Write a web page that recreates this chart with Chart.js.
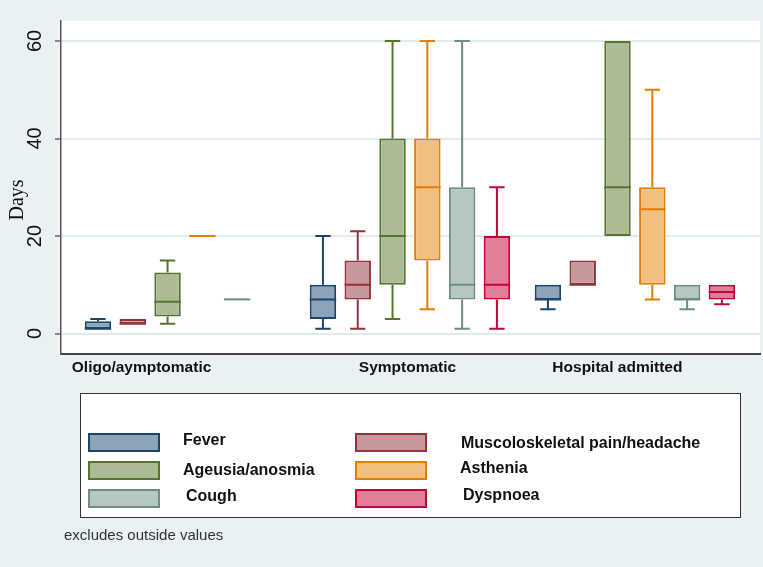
<!DOCTYPE html>
<html>
<head>
<meta charset="utf-8">
<script src="https://cdn.jsdelivr.net/npm/chart.js@4.4.1/dist/chart.umd.min.js"></script>
<style>
html,body{margin:0;padding:0;background:#eaf1f3;}
canvas{display:block;}
</style>
</head>
<body>
<canvas id="c" width="763" height="567"></canvas>
<script>
// ---- data ----
const categories = ["Oligo/aymptomatic", "Symptomatic", "Hospital admitted"];
const seriesNames = ["Fever", "Muscoloskeletal pain/headache", "Ageusia/anosmia", "Asthenia", "Cough", "Dyspnoea"];
// each entry: [min, q1, median, q3, max] per category (null = no data)
const fever      = [[1, 1, 1, 2.5, 3],   [1, 3, 7, 10, 20],   [5, 7, 7, 10, 10]];
const muscolo    = [[2, 2, 2, 3, 3],     [1, 7, 10, 15, 21],  [10, 10, 10, 15, 15]];
const ageusia    = [[2, 3.5, 6.5, 12.5, 15], [3, 10, 20, 40, 60], [20, 20, 30, 60, 60]];
const asthenia   = [[20, 20, 20, 20, 20], [5, 15, 30, 40, 60], [7, 10, 25.5, 30, 50]];
const cough      = [[7, 7, 7, 7, 7],     [1, 7, 10, 30, 60],  [5, 7, 7, 10, 10]];
const dyspnoea   = [null,                [1, 7, 10, 20, 30],  [6, 7, 8.5, 10, 10]];
const yTicks = [0, 20, 40, 60];
const yTitle = "Days";
const noteText = "excludes outside values";

// ---- styles ----
const borderColors = ["#1a476f", "#90353b", "#55752f", "#e37e00", "#6e8e84", "#c10534"];
const fillColors   = ["#8ea2b8", "#c7979b", "#aabb96", "#f1bf80", "#b6c7c1", "#e07f97"];
const xLabelShift = [-0.193, -0.011, -0.078];
const allStats = [fever, muscolo, ageusia, asthenia, cough, dyspnoea];
const X_MIN = -0.551, X_MAX = 2.556;

const datasets = allStats.map((st, di) => ({
  label: seriesNames[di],
  data: st.map((s, i) => ({ x: i, y: s ? [s[1], s[3]] : null })),
  backgroundColor: fillColors[di],
  borderColor: borderColors[di],
  borderWidth: 2,
  borderSkipped: false,
  categoryPercentage: 0.928,
  barPercentage: 0.76
}));

const boxPlugin = {
  id: 'boxes',
  beforeDraw(chart) {
    const ctx = chart.ctx, a = chart.chartArea;
    ctx.save();
    ctx.fillStyle = '#eaf1f3';
    ctx.fillRect(0, 0, chart.width, chart.height);
    ctx.fillStyle = '#ffffff';
    ctx.fillRect(a.left, a.top, a.right - a.left, a.bottom - a.top);
    ctx.restore();
  },
  afterDatasetsDraw(chart) {
    const ctx = chart.ctx, ys = chart.scales.y;
    ctx.save();
    chart.data.datasets.forEach((ds, di) => {
      const meta = chart.getDatasetMeta(di);
      meta.data.forEach((el, i) => {
        const s = allStats[di][i];
        if (!s) return;
        const x = el.x, w = el.width, cw = w * 0.58;
        const p = v => ys.getPixelForValue(v);
        ctx.strokeStyle = borderColors[di];
        ctx.lineWidth = 2;
        ctx.beginPath();
        if (s[4] > s[3]) {
          ctx.moveTo(x, p(s[3])); ctx.lineTo(x, p(s[4]));
          ctx.moveTo(x - cw / 2, p(s[4])); ctx.lineTo(x + cw / 2, p(s[4]));
        }
        if (s[0] < s[1]) {
          ctx.moveTo(x, p(s[1])); ctx.lineTo(x, p(s[0]));
          ctx.moveTo(x - cw / 2, p(s[0])); ctx.lineTo(x + cw / 2, p(s[0]));
        }
        ctx.moveTo(x - w / 2, p(s[2])); ctx.lineTo(x + w / 2, p(s[2]));
        ctx.stroke();
      });
    });
    ctx.restore();
  },
  afterDraw(chart) {
    const ctx = chart.ctx;
    ctx.save();
    // y title
    ctx.fillStyle = '#111';
    ctx.font = '20px "Liberation Serif", "Times New Roman", serif';
    ctx.textAlign = 'center';
    ctx.textBaseline = 'middle';
    ctx.translate(18, 200);
    ctx.rotate(-Math.PI / 2);
    ctx.fillText(yTitle, 0, 0);
    ctx.restore();

    // legend
    ctx.save();
    ctx.fillStyle = '#ffffff';
    ctx.fillRect(80, 393, 661, 125);
    ctx.strokeStyle = '#333';
    ctx.lineWidth = 1;
    ctx.strokeRect(80.5, 393.5, 660, 124);
    const order = [0, 1, 2, 3, 4, 5];
    const cols = [{ sx: 88, tx: 183 }, { sx: 355, tx: 461 }];
    const rows = [433, 461, 489];
    const textY = [[441, 444], [471, 469], [497, 496]];
    const textDX = [[0, 0], [0, -1], [3, 2]];
    ctx.font = 'bold 16px "Liberation Sans", Arial, sans-serif';
    ctx.textBaseline = 'middle';
    ctx.textAlign = 'left';
    order.forEach((di, k) => {
      const r = Math.floor(k / 2), c = k % 2;
      const sx = cols[c].sx, sy = rows[r];
      ctx.fillStyle = fillColors[di];
      ctx.fillRect(sx, sy, 72, 19);
      ctx.strokeStyle = borderColors[di];
      ctx.lineWidth = 2;
      ctx.strokeRect(sx + 1, sy + 1, 70, 17);
      ctx.fillStyle = '#111';
      ctx.fillText(seriesNames[di], cols[c].tx + textDX[r][c], textY[r][c]);
    });
    // note
    ctx.fillStyle = '#333';
    ctx.font = '15px "Liberation Sans", Arial, sans-serif';
    ctx.fillText(noteText, 64, 536);
    ctx.restore();
  }
};

new Chart(document.getElementById('c'), {
  type: 'bar',
  data: { datasets },
  plugins: [boxPlugin],
  options: {
    responsive: false,
    devicePixelRatio: 1,
    animation: false,
    layout: { padding: { top: 21, right: 3, left: 0, bottom: 0 } },
    plugins: { legend: { display: false }, tooltip: { enabled: false } },
    scales: {
      x: {
        type: 'linear',
        position: 'bottom',
        offset: false,
        bounds: 'data',
        min: X_MIN,
        max: X_MAX,
        grid: { display: false, drawTicks: false, offset: false },
        border: { display: true, color: '#444', width: 2 },
        afterBuildTicks: (s) => { s.ticks = categories.map((c, i) => ({ value: i })); },
        afterFit: (s) => { s.height = 0; },
        ticks: { display: false }
      },
      xLabels: {
        type: 'linear',
        position: 'bottom',
        offset: false,
        bounds: 'data',
        min: X_MIN,
        max: X_MAX,
        grid: { display: false, drawTicks: false, offset: false },
        border: { display: false },
        afterBuildTicks: (s) => { s.ticks = categories.map((c, i) => ({ value: i + xLabelShift[i] })); },
        afterFit: (s) => { s.height = 567 - 354; },
        ticks: {
          autoSkip: false,
          maxRotation: 0,
          padding: 4,
          color: '#111',
          font: { family: '"Liberation Sans", Arial, sans-serif', size: 15.5, weight: 'bold' },
          callback: (v, i) => categories[i]
        }
      },
      y: {
        min: -4.2,
        max: 64.1,
        afterBuildTicks: (s) => { s.ticks = yTicks.map(v => ({ value: v })); },
        afterFit: (s) => { s.width = 61; },
        grid: { color: '#e2ecee', lineWidth: 2, tickColor: '#222', tickLength: 6, tickWidth: 1 },
        border: { display: true, color: '#555', width: 1.5 },
        ticks: {
          minRotation: 90,
          maxRotation: 90,
          crossAlign: 'center',
          padding: 8,
          color: '#111',
          font: { family: '"Liberation Sans", Arial, sans-serif', size: 20 }
        }
      }
    }
  }
});
</script>
</body>
</html>
